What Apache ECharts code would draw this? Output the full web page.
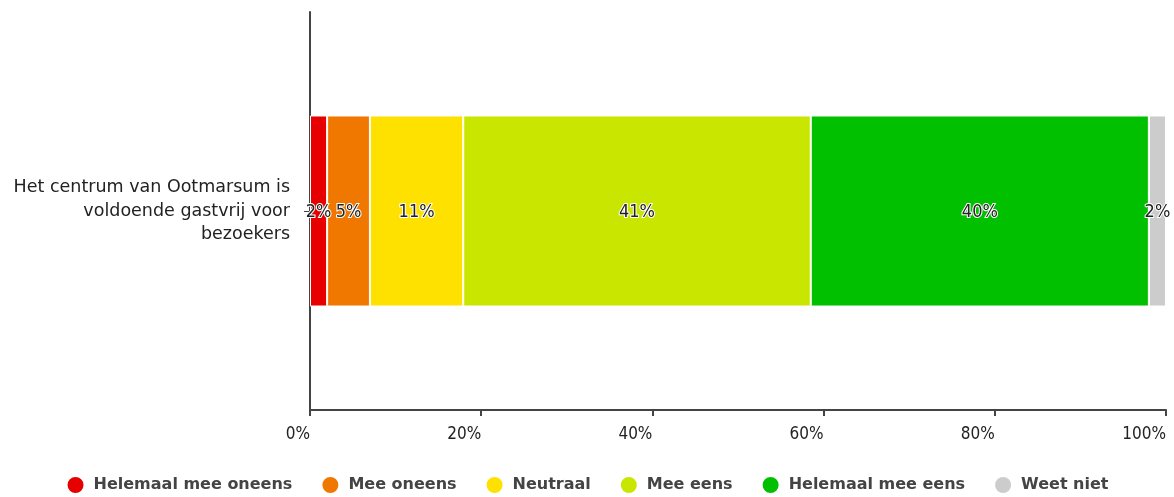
<!DOCTYPE html>
<html>
<head>
<meta charset="utf-8">
<script src="https://cdn.jsdelivr.net/npm/echarts@6/dist/echarts.min.js"></script>
<style>
  html, body { margin: 0; padding: 0; background: #fff; }
  #chart { width: 1174px; height: 497px; }
</style>
</head>
<body>
<div id="chart"></div>
<script>
const categories = ['Het centrum van Ootmarsum is\nvoldoende gastvrij voor\nbezoekers'];
const seriesNames = ['Helemaal mee oneens', 'Mee oneens', 'Neutraal', 'Mee eens', 'Helemaal mee eens', 'Weet niet'];
const seriesValues = [[2.0], [5.0], [10.9], [40.6], [39.5], [2.0]];
const colors = ['#e60000', '#f07800', '#ffe100', '#c8e600', '#00c000', '#cccccc'];
const xTicks = [0, 20, 40, 60, 80, 100];

const chart = echarts.init(document.getElementById('chart'));

const option = {
    animation: false,
    color: colors,
    legend: {
        top: 470,
        left: 'center',
        icon: 'circle',
        itemWidth: 18,
        itemHeight: 18,
        itemGap: 28,
        textStyle: {
            fontFamily: 'DejaVu Sans',
            fontSize: 16,
            fontWeight: 'bold',
            color: '#444',
            padding: [0, 0, 0, 4]
        },
        data: seriesNames
    },
    grid: {
        left: 310,
        right: 8,
        top: 12,
        bottom: 87,
        containLabel: false,
        outerBoundsMode: 'none'
    },
    xAxis: {
        type: 'value',
        min: 0,
        max: 100,
        interval: 20,
        splitLine: { show: false },
        axisLine: { show: true, lineStyle: { color: '#444', width: 2 } },
        axisTick: { show: true, length: 6, lineStyle: { color: '#444', width: 2 } },
        axisLabel: {
            fontFamily: 'DejaVu Sans Condensed',
            fontSize: 17,
            color: '#222',
            margin: 16,
            align: 'right',
            formatter: function (v) {
                return xTicks.indexOf(v) >= 0 ? v + '%' : '';
            }
        }
    },
    yAxis: {
        type: 'category',
        data: categories,
        boundaryGap: true,
        axisLine: { show: true, lineStyle: { color: '#444', width: 2 } },
        axisTick: { show: true, alignWithLabel: true, length: 6, lineStyle: { color: '#444' } },
        axisLabel: {
            fontFamily: 'DejaVu Sans',
            fontSize: 17.5,
            lineHeight: 23.5,
            color: '#222',
            align: 'right',
            margin: 20
        }
    },
    series: seriesNames.map(function (name, i) {
        return {
            name: name,
            type: 'bar',
            stack: 'total',
            barWidth: '48%',
            data: seriesValues[i],
            itemStyle: { borderColor: '#fff', borderWidth: 1 },
            label: {
                show: true,
                position: 'inside',
                offset: [0, 1],
                fontFamily: 'DejaVu Sans Condensed',
                fontSize: 18,
                color: '#222',
                textBorderColor: '#fff',
                textBorderWidth: 2,
                formatter: function (p) {
                    return Math.round(p.value) + '%';
                }
            }
        };
    })
};

chart.setOption(option);
</script>
</body>
</html>
